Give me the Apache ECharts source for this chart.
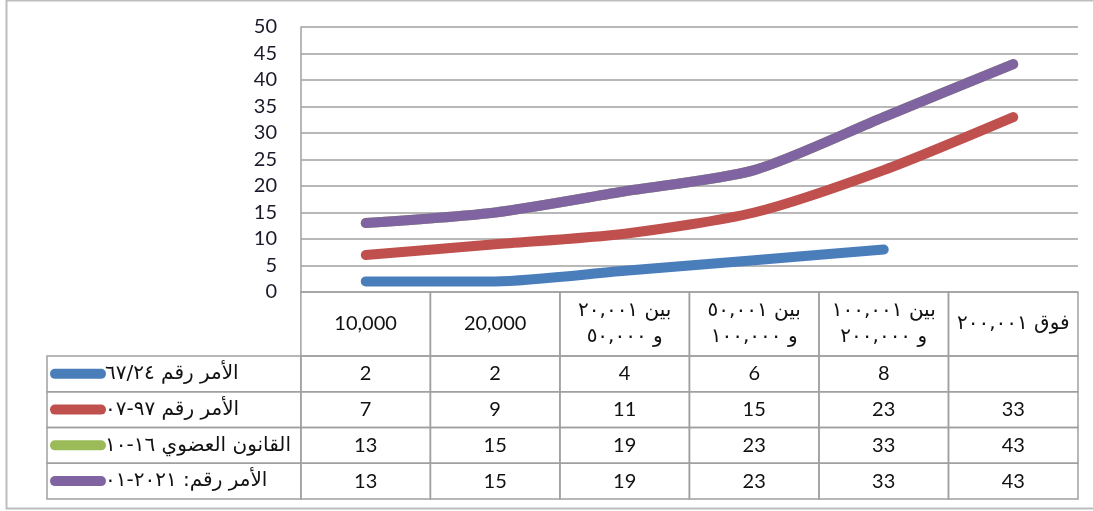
<!DOCTYPE html>
<html>
<head>
<meta charset="utf-8">
<script src="https://cdn.jsdelivr.net/npm/echarts@6/dist/echarts.min.js"></script>
<style>
html,body{margin:0;padding:0;background:#fff;}
#chart{width:1093px;height:511px;}
</style>
</head>
<body>
<div id="chart"></div>
<script>
// ---- data ----
const categories = ['10,000', '20,000', 'بين ٢٠,٠٠١\nو ٥٠,٠٠٠', 'بين ٥٠,٠٠١\nو ١٠٠,٠٠٠', 'بين ١٠٠,٠٠١\nو ٢٠٠,٠٠٠', 'فوق ٢٠٠,٠٠١'];
const seriesNames = ['الأمر رقم ٦٧/٢٤', 'الأمر رقم ٩٧-٠٧', 'القانون العضوي ١٦-١٠', 'الأمر رقم: ٢٠٢١-٠١'];
const amr6724 = [2, 2, 4, 6, 8, null];
const amr9707 = [7, 9, 11, 15, 23, 33];
const organic1610 = [13, 15, 19, 23, 33, 43];
const amr202101 = [13, 15, 19, 23, 33, 43];
const yMin = 0, yMax = 50, yStep = 5;

// ---- styles ----
const colors = ['#4A7EBB', '#C0504D', '#9BBB59', '#8064A2'];
const seriesValues = [amr6724, amr9707, organic1610, amr202101];
const LEG_W = 1.96;   // legend column width in column units
const HDR_H = 1.79;   // header row height in row units
const numFont = 'Lato, "Open Sans", sans-serif';
const arFont = '"DejaVu Sans", sans-serif';
const borderColor = '#a0a0a0';

// table cells built from data
const cells = [];
categories.forEach((c, i) => cells.push({col: i, row: -1, text: c}));
seriesNames.forEach((n, r) => {
  cells.push({col: -1, row: r, text: n, color: colors[r]});
  seriesValues[r].forEach((v, i) => cells.push({col: i, row: r, text: v == null ? '' : String(v)}));
});

const hasArabic = s => /[\u0600-\u06FF]/.test(s);

const chart = echarts.init(document.getElementById('chart'), null, {renderer: 'canvas'});

const lineSeries = seriesNames.map((name, i) => ({
  name: name,
  type: 'line',
  xAxisIndex: 0, yAxisIndex: 0,
  data: seriesValues[i],
  smooth: 0.25,
  symbol: 'none',
  z: 3 + i,
  lineStyle: {color: colors[i], width: 10, cap: 'round', join: 'round'},
  itemStyle: {color: colors[i]}
}));

const option = {
  animation: false,
  backgroundColor: '#fff',
  graphic: [{
    type: 'rect', silent: true, z: -1,
    shape: {x: 6.5, y: 0.5, width: 1100, height: 508},
    style: {fill: 'none', stroke: '#bdbdbd', lineWidth: 2}
  }],
  grid: [
    {left: 301, right: 15, top: 27, bottom: 219},
    {left: 47, right: 15, top: 292, bottom: 12}
  ],
  xAxis: [
    {type: 'category', gridIndex: 0, data: categories, boundaryGap: true,
     axisLine: {show: false}, axisTick: {show: false}, axisLabel: {show: false}, splitLine: {show: false}},
    {type: 'value', gridIndex: 1, min: -LEG_W, max: categories.length, show: false}
  ],
  yAxis: [
    {type: 'value', gridIndex: 0, min: yMin, max: yMax, interval: yStep,
     axisLine: {show: true, lineStyle: {color: borderColor, width: 1.5}},
     axisTick: {show: false},
     axisLabel: {margin: 24, color: '#1a1a2a', fontSize: 20, fontFamily: numFont},
     splitLine: {show: true, lineStyle: {color: borderColor, width: 1.5}}},
    {type: 'value', gridIndex: 1, min: -HDR_H, max: seriesNames.length, inverse: true, show: false}
  ],
  series: lineSeries.concat([{
    type: 'custom',
    xAxisIndex: 1, yAxisIndex: 1,
    silent: true,
    clip: false,
    encode: {x: 0, y: 1},
    data: cells.map(c => [c.col, c.row]),
    renderItem: function (params, api) {
      const cell = cells[params.dataIndex];
      const c = api.value(0), r = api.value(1);
      const x0 = c < 0 ? -LEG_W : c, x1 = c < 0 ? 0 : c + 1;
      const y0 = r < 0 ? -HDR_H : r, y1 = r < 0 ? 0 : r + 1;
      const p0 = api.coord([x0, y0]);
      const p1 = api.coord([x1, y1]);
      const children = [{
        type: 'rect',
        shape: {x: p0[0], y: p0[1], width: p1[0] - p0[0], height: p1[1] - p0[1]},
        style: {fill: 'none', stroke: borderColor, lineWidth: 1.5}
      }];
      const cy = (p0[1] + p1[1]) / 2;
      if (c < 0) {
        children.push({
          type: 'line',
          shape: {x1: p0[0] + 8, y1: cy, x2: p0[0] + 54, y2: cy},
          style: {stroke: cell.color, lineWidth: 10, lineCap: 'round'}
        });
        children.push({
          type: 'text',
          style: {text: cell.text, x: p0[0] + 58, y: cy, align: 'left', verticalAlign: 'middle',
                  font: '20px ' + arFont, fill: '#111'}
        });
      } else {
        const ar = hasArabic(cell.text);
        children.push({
          type: 'text',
          style: {text: cell.text, x: (p0[0] + p1[0]) / 2, y: cy, align: 'center', verticalAlign: 'middle',
                  font: ar ? ('20px ' + arFont) : ('20px ' + numFont), lineHeight: 26, fill: '#111'}
        });
      }
      return {type: 'group', children: children};
    }
  }])
};
chart.setOption(option);
</script>
</body>
</html>
